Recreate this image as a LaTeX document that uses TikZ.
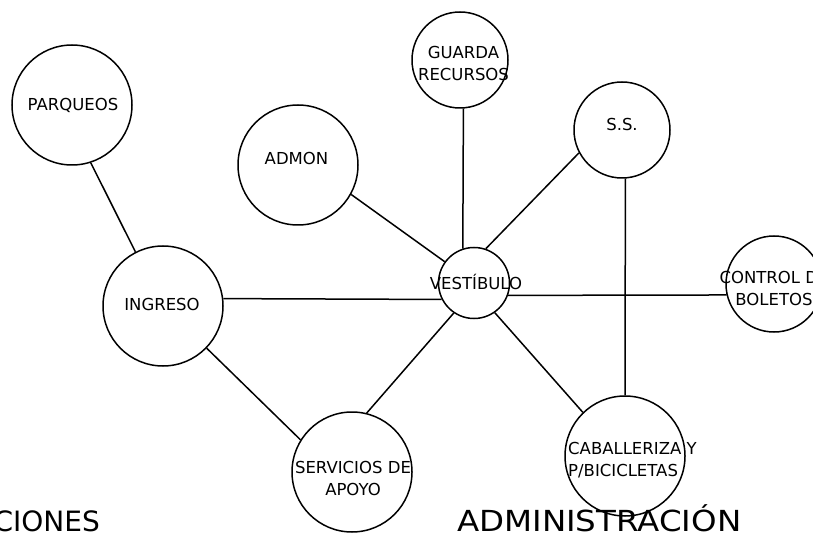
\documentclass[tikz,border=0pt]{standalone}
\usepackage{fontspec}
\setmainfont{DejaVu Sans}
\newfontfamily\widefont[FakeStretch=1.12]{DejaVu Sans}
\begin{document}
\begin{tikzpicture}[x=1pt,y=-1pt,
  bub/.style={draw,circle,line width=1.5pt,inner sep=0pt},
  con/.style={line width=1.5pt},
  lbl/.style={font=\fontsize{16.5}{22}\selectfont,inner sep=0pt,align=center},
  big/.style={font=\widefont\fontsize{29}{32}\selectfont,inner sep=0pt}]
\useasboundingbox (0,0) rectangle (813,537);
% bubbles
\node[bub,minimum size=120pt] (parq) at (72,105) {};
\node[bub,minimum size=120pt] (ingreso) at (163,306) {};
\node[bub,minimum size=120pt] (admon) at (298,165) {};
\node[bub,minimum size=96pt] (guarda) at (460,60) {};
\node[bub,minimum size=96pt] (ss) at (622,130) {};
\node[bub,minimum size=71pt] (vest) at (474,283) {};
\node[bub,minimum size=96pt] (control) at (774,284) {};
\node[bub,minimum size=120pt] (serv) at (352,472) {};
\node[bub,minimum size=120pt] (cab) at (625,456) {};
% labels
\node[lbl,anchor=base] (tparq) at (73,111) {PARQUEOS};
\node[lbl,anchor=base] (ting) at (162,310) {INGRESO};
\node[lbl,anchor=base] (tadmon) at (296.5,165) {ADMON};
\node[lbl,anchor=north,font=\fontsize{16.5}{22.5}\selectfont] (tguarda) at (463.5,46) {GUARDA\\RECURSOS};
\node[lbl,anchor=base] (tss) at (622,131) {S.S.};
\node[lbl,anchor=base] (tvest) at (476,289) {VESTÍBULO};
\node[lbl,anchor=north] (tcontrol) at (774,271) {CONTROL DE\\BOLETOS};
\node[lbl,anchor=north] (tserv) at (353,461) {SERVICIOS DE\\APOYO};
\node[lbl,anchor=north west,align=left] (tcab) at (568,442) {CABALLERIZA Y\\P/BICICLETAS};
\node[inner sep=0pt,font=\fontsize{28}{32}\selectfont,anchor=base east] (tcir) at (100,531) {CIONES};
\node[big,anchor=base west] (tadm) at (457,531) {ADMINISTRACIÓN};
% connectors
\draw[con] (parq.-72) -- (ingreso.117);
\draw[con] (ingreso.7) -- (vest.207);
\draw[con] (ingreso.-44) -- (serv.148);
\draw[con] (admon.-29) -- (vest.144);
\draw[con] (guarda.-86) -- (vest.108);
\draw[con] (ss.208) -- (vest.71);
\draw[con] (ss.-86) -- (cab.90);
\draw[con] (vest.-20) -- (control.193);
\draw[con] (vest.236) -- (serv.76);
\draw[con] (vest.-55) -- (cab.134);
\end{tikzpicture}
\end{document}
